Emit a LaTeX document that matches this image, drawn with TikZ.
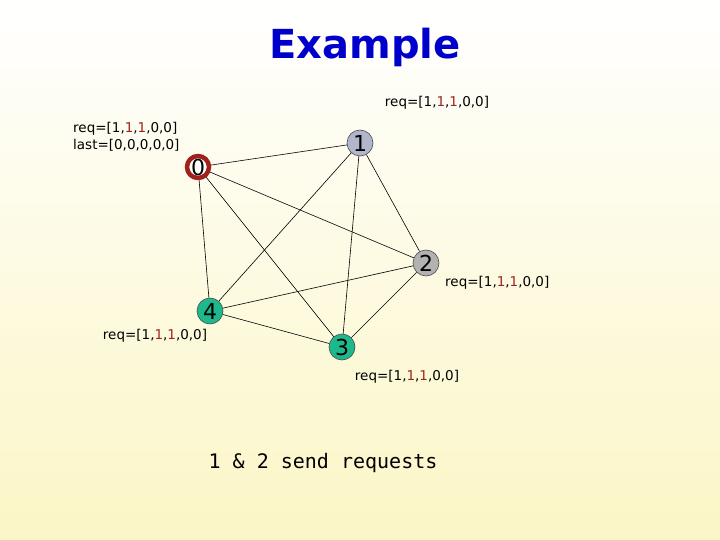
\documentclass[tikz,border=0pt]{standalone}
\usepackage{fontspec}
\setmainfont{DejaVu Sans}
\newfontfamily\monof{DejaVu Sans Mono}
\begin{document}
\begin{tikzpicture}[x=1pt,y=-1pt,
  nd/.style={circle,draw=black!70,line width=0.6pt,minimum size=26pt,inner sep=0pt,font=\fontsize{22}{22}\selectfont},
  lbl/.style={font=\fontsize{13.5}{17}\selectfont,inner sep=0pt},
  ed/.style={line width=0.6pt}]
\definecolor{ylw}{HTML}{FBF6C6}
\definecolor{rd}{HTML}{A0201C}
\definecolor{grn}{HTML}{1DB98C}
\definecolor{lblue}{HTML}{B2B6CC}
\shade[top color=white,bottom color=ylw] (0,0) rectangle (720,540);
\useasboundingbox (0,0) rectangle (720,540);
\newcommand{\myreq}{req=[1,{\color{rd}1},{\color{rd}1},0,0]}
\node[font=\fontsize{40}{40}\selectfont\bfseries,text=blue!80!black] (t) at (365,47) {Example};
\node[nd,fill=white,draw=rd,line width=4.5pt,minimum size=22pt] (n0) at (198,167) {0};
\node[nd,fill=lblue] (n1) at (360,143) {1};
\node[nd,fill=black!30] (n2) at (426,263) {2};
\node[nd,fill=grn] (n3) at (342,347) {3};
\node[nd,fill=grn] (n4) at (210,311) {4};
\foreach \a/\b in {n0/n1,n0/n2,n0/n3,n0/n4,n1/n2,n1/n3,n1/n4,n2/n3,n2/n4,n3/n4}
  \draw[ed] (\a) -- (\b);
\node[lbl,anchor=west,align=left] (l0) at (73,137) {\myreq\\last=[0,0,0,0,0]};
\node[lbl] (l1) at (437,103) {\myreq};
\node[lbl,anchor=west] (l2) at (445,283) {\myreq};
\node[lbl] (l4) at (155,336) {\myreq};
\node[lbl] (l3) at (407,377) {\myreq};
\node[font=\monof\fontsize{20}{20}\selectfont] (b) at (323,463) {1 \& 2 send requests};
\end{tikzpicture}
\end{document}
